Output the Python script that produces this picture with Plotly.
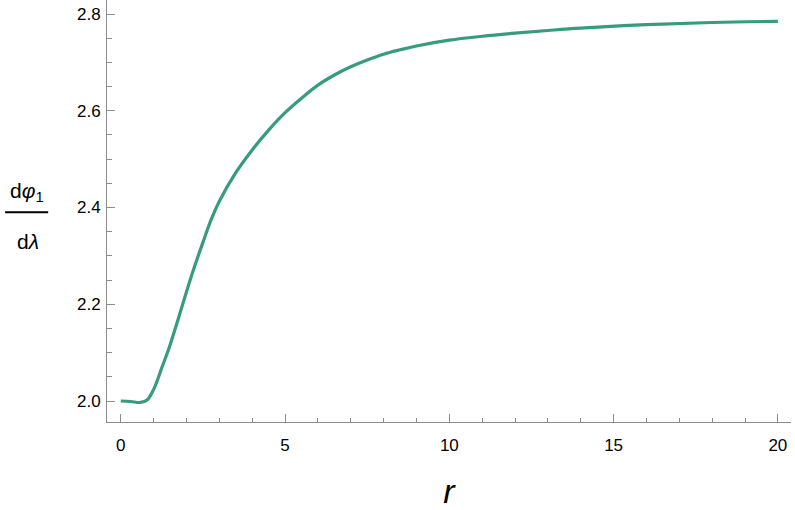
import plotly.graph_objects as go

# values
r_values = [0, 0.3, 0.6, 0.8, 1.0, 1.25, 1.5, 1.75, 2.0, 2.25, 2.5, 2.75, 3.0, 3.5,
            4.0, 4.5, 5.0, 5.5, 6.0, 6.5, 7.0, 7.5, 8.0, 8.5, 9.0, 10, 11, 12, 13,
            14, 16, 18, 20]
dphi_values = [2.0, 1.999, 1.997, 2.002, 2.024, 2.069, 2.116, 2.170, 2.226, 2.279,
               2.328, 2.375, 2.413, 2.472, 2.519, 2.560, 2.596, 2.626, 2.653, 2.674,
               2.691, 2.705, 2.717, 2.726, 2.734, 2.746, 2.754, 2.7605, 2.766, 2.771,
               2.778, 2.7825, 2.785]
x_ticks = [0, 5, 10, 15, 20]
y_ticks = [2.0, 2.2, 2.4, 2.6, 2.8]

axis_color = "#8c8c8c"
font_family = "Liberation Sans, Arial, sans-serif"

fig = go.Figure()

fig.add_trace(go.Scatter(
    x=r_values,
    y=dphi_values,
    mode="lines",
    line=dict(color="#379b7d", width=3.2, shape="spline", smoothing=1.0),
    showlegend=False,
    hoverinfo="skip"
))

fig.update_xaxes(
    range=[-0.42, 20.4],
    tickvals=x_ticks,
    ticktext=[str(v) for v in x_ticks],
    ticks="inside",
    ticklen=8,
    tickwidth=1,
    tickcolor=axis_color,
    minor=dict(dtick=1, tick0=0, ticks="inside", ticklen=4, tickcolor=axis_color, showgrid=False),
    showline=True,
    linecolor=axis_color,
    linewidth=1,
    showgrid=False,
    zeroline=False,
    ticklabelstandoff=8,
    tickfont=dict(family=font_family, size=17, color="black"),
    title=dict(text="<i>r</i>", font=dict(family=font_family, size=34, color="black"), standoff=26),
)

fig.update_yaxes(
    range=[1.9566, 2.829],
    tickvals=y_ticks,
    ticktext=[f"{v:.1f}" for v in y_ticks],
    ticks="inside",
    ticklen=8,
    tickwidth=1,
    tickcolor=axis_color,
    minor=dict(dtick=0.05, tick0=2.0, ticks="inside", ticklen=5, tickcolor=axis_color, showgrid=False),
    showline=True,
    linecolor=axis_color,
    linewidth=1,
    showgrid=False,
    zeroline=False,
    ticklabelstandoff=2,
    tickfont=dict(family=font_family, size=17, color="black"),
)

# y label drawn as a fraction: dφ1 / dλ
fig.add_annotation(
    text="d<i>φ</i><sub>1</sub>", xref="paper", yref="paper",
    x=-0.117, y=0.545, showarrow=False, xanchor="center", yanchor="middle",
    font=dict(family=font_family, size=21, color="black")
)
fig.add_annotation(
    text="d<i>λ</i>", xref="paper", yref="paper",
    x=-0.116, y=0.427, showarrow=False, xanchor="center", yanchor="middle",
    font=dict(family=font_family, size=21, color="black")
)
fig.add_shape(
    type="line", xref="paper", yref="paper",
    x0=-0.149, x1=-0.086, y0=0.497, y1=0.497,
    line=dict(color="black", width=2)
)

fig.update_layout(
    width=795,
    height=510,
    margin=dict(l=107, r=4, t=0, b=88),
    plot_bgcolor="white",
    paper_bgcolor="white",
)

fig.write_html("out.html", config={"displayModeBar": False},
               post_script="document.body.style.margin='0px';")
